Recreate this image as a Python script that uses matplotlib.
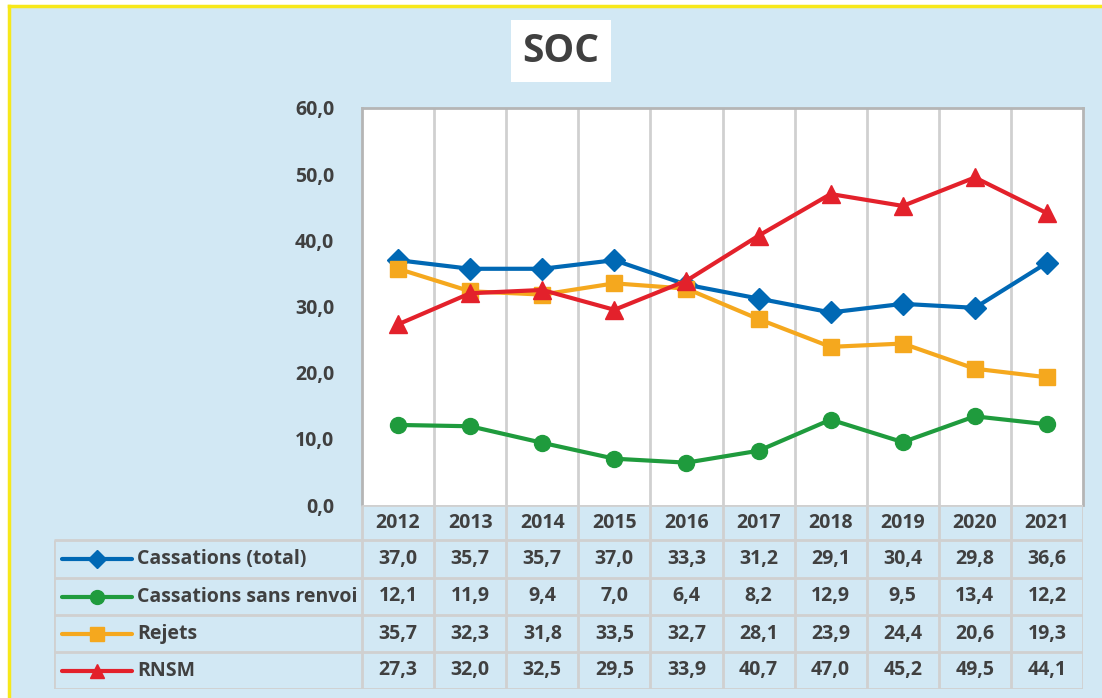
import matplotlib.pyplot as plt
from matplotlib.lines import Line2D
from matplotlib.patches import Rectangle

# Données
annees = ["2012", "2013", "2014", "2015", "2016", "2017", "2018", "2019", "2020", "2021"]
cassations_total = [37.0, 35.7, 35.7, 37.0, 33.3, 31.2, 29.1, 30.4, 29.8, 36.6]
cassations_sans_renvoi = [12.1, 11.9, 9.4, 7.0, 6.4, 8.2, 12.9, 9.5, 13.4, 12.2]
rejets = [35.7, 32.3, 31.8, 33.5, 32.7, 28.1, 23.9, 24.4, 20.6, 19.3]
rnsm = [27.3, 32.0, 32.5, 29.5, 33.9, 40.7, 47.0, 45.2, 49.5, 44.1]
noms = ["Cassations (total)", "Cassations sans renvoi", "Rejets", "RNSM"]
y_ticks = [0, 10, 20, 30, 40, 50, 60]

series = [cassations_total, cassations_sans_renvoi, rejets, rnsm]
couleurs = ["#0068b4", "#1f9b3d", "#f5a81e", "#e3212b"]
marqueurs = ["D", "o", "s", "^"]
tailles = [11.5, 11.5, 12, 12.5]

plt.rcParams['font.family'] = ['Open Sans', 'DejaVu Sans']
texte = "#404040"
fond = "#d2e8f4"
grille = "#d0d0d0"
fs = 14
poids = "bold"

W, H = 1102, 698
fig = plt.figure(figsize=(W / 100, H / 100), dpi=100, facecolor="white")

# fond bleu avec bord jaune en haut et à gauche
fig.patches.append(Rectangle((9 / W, 0), 1 - 9 / W, 1 - 6 / H, transform=fig.transFigure,
                             facecolor=fond, edgecolor="none", zorder=-10))
fig.lines.append(Line2D([9 / W, 9 / W], [0, 1 - 6 / H], transform=fig.transFigure, color="#f7e81a", lw=2.5))
fig.lines.append(Line2D([9 / W, 1], [1 - 6 / H, 1 - 6 / H], transform=fig.transFigure, color="#f7e81a", lw=2.5))

# zone du graphique
x0, x1, y0, y1 = 362, 1083, 108, 505
ax = fig.add_axes([x0 / W, 1 - y1 / H, (x1 - x0) / W, (y1 - y0) / H])
ax.set_facecolor("white")
n = len(annees)
xs = list(range(n))
for i, (vals, c, m, ms) in enumerate(zip(series, couleurs, marqueurs, tailles)):
    ax.plot(xs, vals, color=c, lw=3, marker=m, markersize=ms, zorder=3 + i)
ax.set_xlim(-0.5, n - 0.5)
ax.set_ylim(0, 60)
ax.set_yticks(y_ticks)
ax.set_yticklabels([f"{v:.1f}".replace(".", ",") for v in y_ticks], fontsize=fs,
                   fontweight=poids, color=texte)
ax.tick_params(axis="y", length=0, pad=20)
ax.set_xticks([])
for k in range(1, n):
    ax.axvline(k - 0.5, color=grille, lw=2, zorder=1)
for s in ["top", "right", "left"]:
    ax.spines[s].set_color("#b5b5b5")
    ax.spines[s].set_linewidth(2)
ax.spines["bottom"].set_visible(False)

# tableau de données
t_top, t_bot, t_left = 505, 689, 54
unit = (x1 - x0) / n
tax = fig.add_axes([t_left / W, 1 - t_bot / H, (x1 - t_left) / W, (t_bot - t_top) / H])
tax.set_xlim(-0.5 - (x0 - t_left) / unit, n - 0.5)
tax.set_ylim(t_bot, t_top)
tax.axis("off")
tax.patch.set_alpha(0)

def px(p):
    return -0.5 + (p - x0) / unit

lignes = [505, 540, 578, 615, 652, 689]
left_col = px(t_left)
kw = dict(color=grille, lw=2, solid_capstyle="butt")
# lignes horizontales
tax.plot([-0.5, n - 0.5], [lignes[0], lignes[0]], **kw)
for yy in lignes[1:]:
    tax.plot([left_col, n - 0.5], [yy, yy], **kw)
# lignes verticales
for k in range(n + 1):
    tax.plot([k - 0.5, k - 0.5], [lignes[0], lignes[-1]], **kw)
tax.plot([left_col, left_col], [lignes[1], lignes[-1]], **kw)

for k, a in enumerate(annees):
    tax.text(k, (lignes[0] + lignes[1]) / 2 + 1, a, ha="center", va="center", fontsize=fs,
             fontweight=poids, color=texte)

for r, (nom, vals, c, m) in enumerate(zip(noms, series, couleurs, marqueurs)):
    yc = (lignes[r + 1] + lignes[r + 2]) / 2
    tax.plot([px(62), px(132)], [yc, yc], color=c, lw=3, solid_capstyle="round")
    tax.plot([px(97)], [yc], color=c, marker=m, markersize=10 if m != "D" else 9)
    tax.text(px(137), yc, nom, ha="left", va="center", fontsize=fs, fontweight=poids, color=texte)
    for k, v in enumerate(vals):
        tax.text(k, yc, f"{v:.1f}".replace(".", ","), ha="center", va="center", fontsize=fs,
                 fontweight=poids, color=texte)

# titre
fig.text(561 / W, 1 - 51 / H, "SOC", ha="center", va="center", fontsize=28, fontweight=poids,
         color=texte, bbox=dict(boxstyle="square,pad=0.3", facecolor="white", edgecolor="none"))

fig.savefig("out.png", dpi=100, facecolor=fig.get_facecolor())
